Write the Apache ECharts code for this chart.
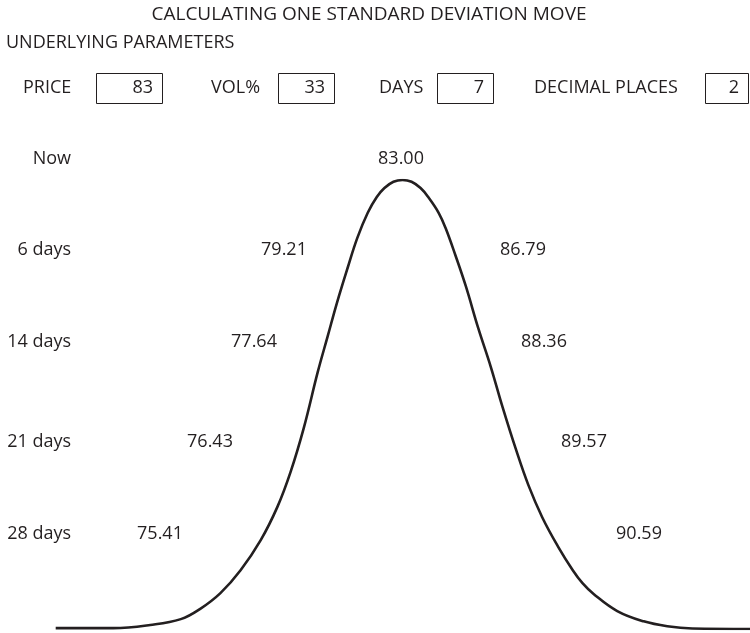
<!DOCTYPE html>
<html>
<head>
<meta charset="utf-8">
<script src="https://cdn.jsdelivr.net/npm/echarts@6/dist/echarts.min.js"></script>
<style>
html,body{margin:0;padding:0;background:#fff;}
#c{width:750px;height:633px;}
</style>
</head>
<body>
<div id="c"></div>
<script>
// ---- data ----
var titleText = 'CALCULATING ONE STANDARD DEVIATION MOVE';
var sectionText = 'UNDERLYING PARAMETERS';
var paramLabels = ['PRICE', 'VOL%', 'DAYS', 'DECIMAL PLACES'];
var paramValues = ['83', '33', '7', '2'];
var rowLabels = ['Now', '6 days', '14 days', '21 days', '28 days'];
var nowValue = '83.00';
var lowValues = ['79.21', '77.64', '76.43', '75.41'];
var highValues = ['86.79', '88.36', '89.57', '90.59'];
// bell curve, x in standard deviations, y as height relative to the peak
var curveX = [-4.99, -4.16, -3.63, -3.19, -2.91, -2.62, -2.33, -2.04, -1.80, -1.61, -1.42, -1.22, -1.08, -0.94, -0.79, -0.65, -0.50, -0.37, -0.26, -0.13, 0,
              0.13, 0.26, 0.37, 0.52, 0.62, 0.76, 0.91, 1.09, 1.27, 1.44, 1.63, 1.81, 2.01, 2.24, 2.45, 2.59, 2.75, 3.09, 3.47, 3.81, 4.17, 5.01];
var curveY = [0.002, 0.002, 0.009, 0.022, 0.045, 0.080, 0.131, 0.198, 0.272, 0.350, 0.448, 0.572, 0.650, 0.728, 0.804, 0.871, 0.927, 0.962, 0.982, 0.996, 1.0,
              0.996, 0.982, 0.962, 0.927, 0.893, 0.833, 0.764, 0.670, 0.584, 0.494, 0.401, 0.321, 0.249, 0.183, 0.131, 0.102, 0.078, 0.040, 0.017, 0.006, 0.001, 0.0];

// ---- layout ----
var FONT = '"Open Sans", "Noto Sans", sans-serif';
var FS = 18;
var INK = '#231f20';
var chart = echarts.init(document.getElementById('c'), null, {renderer: 'canvas'});

function txt(x, y, s, align, size) {
  return {type: 'text', x: x, y: y, silent: true,
    style: {text: s, font: (size || FS) + 'px ' + FONT, fill: INK, align: align || 'left', verticalAlign: 'middle'}};
}
var g = [];
g.push(txt(369, 15, titleText, 'center', 19));
g.push(txt(6, 43, sectionText));
var labelX = [23, 211, 379, 534];
var boxL = [96, 278, 437, 705];
var boxR = [162, 334, 493, 748];
for (var i = 0; i < paramLabels.length; i++) {
  g.push(txt(labelX[i], 88, paramLabels[i]));
  g.push({type: 'rect', silent: true, shape: {x: boxL[i] + 0.5, y: 73.5, width: boxR[i] - boxL[i], height: 30},
    style: {fill: 'none', stroke: INK, lineWidth: 1}});
  g.push(txt(boxR[i] - 9, 88, paramValues[i], 'right'));
}
var rowY = [159, 250, 342, 442, 534];
for (var r = 0; r < rowLabels.length; r++) {
  g.push(txt(71, rowY[r], rowLabels[r], 'right'));
}
g.push(txt(401, rowY[0], nowValue, 'center'));
var lowX = [284, 254, 210, 160];
var highX = [523, 544, 584, 639];
for (var k = 0; k < lowValues.length; k++) {
  g.push(txt(lowX[k], rowY[k + 1], lowValues[k], 'center'));
  g.push(txt(highX[k], rowY[k + 1], highValues[k], 'center'));
}

var pts = curveX.map(function (x, i) { return [x, curveY[i]]; });

chart.setOption({
  animation: false,
  backgroundColor: '#ffffff',
  grid: {left: 55, right: 0, top: 180, bottom: 4},
  xAxis: {type: 'value', min: -5, max: 5, show: false},
  yAxis: {type: 'value', min: 0, max: 1, show: false},
  series: [{
    type: 'line', data: pts, smooth: 0.4, showSymbol: false, symbol: 'none',
    lineStyle: {color: INK, width: 2.6}
  }],
  graphic: g
});
</script>
</body>
</html>
